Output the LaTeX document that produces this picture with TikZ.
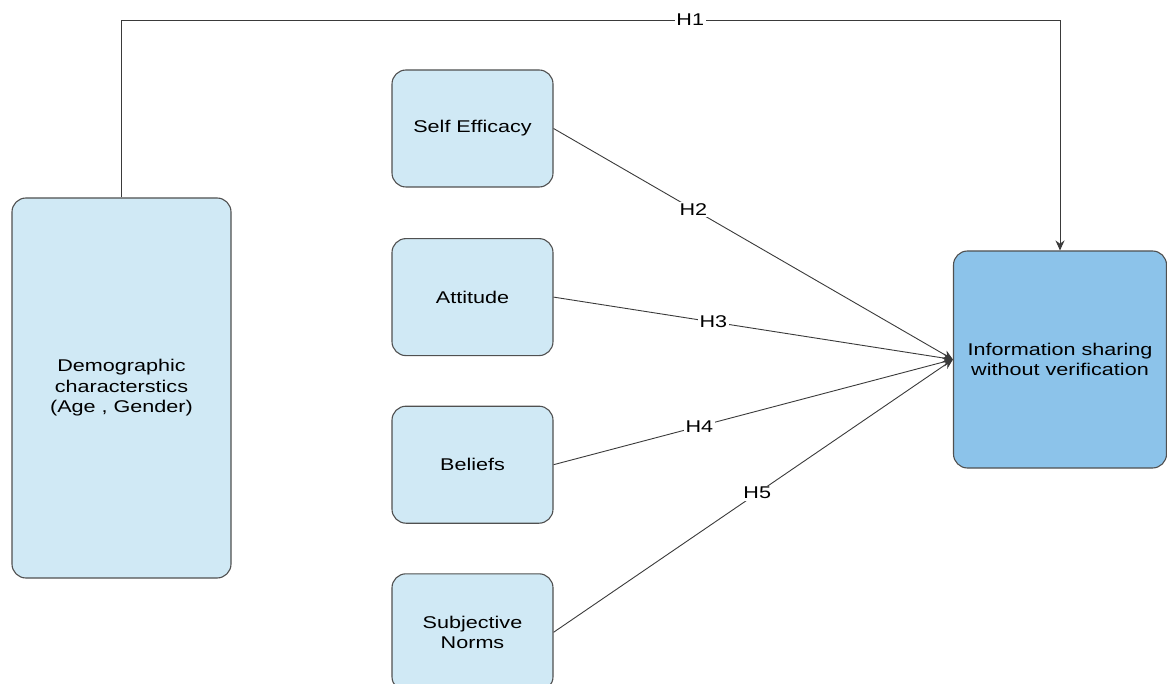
\documentclass[tikz,border=0pt]{standalone}
\usepackage{fontspec}
\setmainfont[FakeStretch=1.27]{Liberation Sans}
\usetikzlibrary{arrows.meta,positioning}
\definecolor{boxfill}{HTML}{D0E9F5}
\definecolor{outfill}{HTML}{8CC3EA}
\definecolor{boxline}{HTML}{505050}
\definecolor{linecol}{HTML}{3A3A3A}
\begin{document}
\begin{tikzpicture}[x=1pt,y=-1pt,
	factor/.style={draw=boxline,fill=boxfill,rounded corners=14pt,line width=1.1pt,
		align=center,inner sep=2pt,font=\fontsize{17}{20.5}\selectfont},
	small/.style={factor,minimum width=161pt,minimum height=117pt},
	link/.style={draw=linecol,line width=0.9pt,-{Stealth[length=10pt,width=9pt]}},
	hyp/.style={fill=white,inner sep=1.5pt,font=\fontsize{17}{20.5}\selectfont}]
		\useasboundingbox (0,0) rectangle (1167,684);
		\node [factor,minimum width=219pt,minimum height=380pt] (demo) at (121.5,388)
		{Demographic\\characterstics\\ (Age , Gender)};
		\node [small] (selfeff) at (472.5,128.5) {Self Efficacy};
		\node [small,below=50.5pt of selfeff] (attitude) {Attitude};
		\node [small,below=49.5pt of attitude] (beliefs) {Beliefs};
		\node [small,below=49.5pt of beliefs] (norms) {Subjective\\Norms};
		\node [factor,fill=outfill,minimum width=213pt,minimum height=217pt] (sharing) at (1060,359.5)
		{Information sharing\\without verification};
		\coordinate (top) at (121.5,20);
		\draw [link] (demo.north) -- (demo.north |- top) -| node[hyp,pos=.303] {H1} (sharing.north);
		\path (selfeff.east) edge[link] node[hyp,pos=.35] {H2} (sharing.west);
		\path (attitude.east) edge[link] node[hyp,pos=.40] {H3} (sharing.west);
		\path (beliefs.east) edge[link] node[hyp,pos=.365] {H4} (sharing.west);
		\path (norms.east) edge[link] node[hyp,pos=.51] {H5} (sharing.west);
		\end{tikzpicture}
\end{document}
